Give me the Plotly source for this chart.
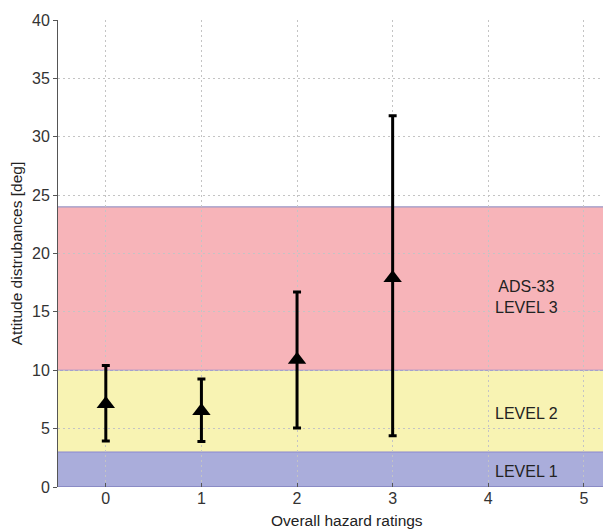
import plotly.graph_objects as go

ratings = [0, 1, 2, 3]
mean_dist = [7.1, 6.5, 10.9, 17.9]
upper = [10.4, 9.25, 16.7, 31.8]
lower = [3.95, 3.9, 5.05, 4.4]

band_edges = [0, 3, 10, 24]
band_colors = ["#aaaddb", "#f8f3b3", "#f7b4b9"]
band_labels = ["LEVEL 1", "LEVEL 2", "ADS-33<br>LEVEL 3"]
label_y = [1.3, 6.3, 16.3]
label_x = 4.4

x_ticks = [0, 1, 2, 3, 4, 5]
y_ticks = [0, 5, 10, 15, 20, 25, 30, 35, 40]

font = "Liberation Sans, Arial, sans-serif"

fig = go.Figure()

fig.add_trace(go.Scatter(
    x=ratings, y=mean_dist, mode="markers",
    marker=dict(symbol="triangle-up", size=16, color="black"),
    error_y=dict(type="data", symmetric=False,
                 array=[u - m for u, m in zip(upper, mean_dist)],
                 arrayminus=[m - l for m, l in zip(mean_dist, lower)],
                 color="black", thickness=3, width=4),
    showlegend=False,
))

shapes = []
for i in range(3):
    shapes.append(dict(type="rect", xref="x", yref="y", x0=-0.5, x1=5.2,
                       y0=band_edges[i], y1=band_edges[i + 1],
                       fillcolor=band_colors[i], line=dict(width=0), layer="below"))
for e, c in zip(band_edges, ["#6a6ab0", "#8a88d0", "#8a88d0", "#9a9ac8"]):
    shapes.append(dict(type="line", xref="x", yref="y", x0=-0.5, x1=5.2,
                       y0=e, y1=e, line=dict(color=c, width=1.2), layer="below"))

annotations = []
for lbl, ly in zip(band_labels, label_y):
    annotations.append(dict(x=label_x, y=ly, xref="x", yref="y", text=lbl,
                            showarrow=False, font=dict(family=font, size=16, color="#222")))

plot_w = 603 - 58
plot_h = 529 - 20 - 42
annotations.append(dict(x=(347 - 58) / plot_w, y=-33 / plot_h, xref="paper", yref="paper",
                        text="Overall hazard ratings", showarrow=False, yanchor="middle",
                        font=dict(family=font, size=15.5, color="#222")))

grid = dict(showgrid=True, gridcolor="#c4c4c4", griddash="2px,3px", gridwidth=1)

fig.update_layout(
    width=603, height=529,
    margin=dict(l=58, r=0, t=20, b=42),
    paper_bgcolor="white", plot_bgcolor="white",
    shapes=shapes,
    annotations=annotations,
    font=dict(family=font, size=15, color="#333"),
    xaxis=dict(range=[-0.5, 5.2], tickvals=x_ticks, **grid,
               zeroline=False, showline=False, ticks="inside", ticklen=4,
               tickcolor="#555", tickfont=dict(size=16, color="#333")),
    yaxis=dict(range=[0, 40], tickvals=y_ticks, **grid,
               zeroline=False, showline=True, linecolor="#555", linewidth=1,
               ticks="outside", ticklen=4, tickcolor="#555",
               tickfont=dict(size=16, color="#333"),
               title=dict(text="Attitude distrubances [deg]", standoff=5,
                          font=dict(size=15.5, color="#222"))),
)

fig.write_html("out.html")
